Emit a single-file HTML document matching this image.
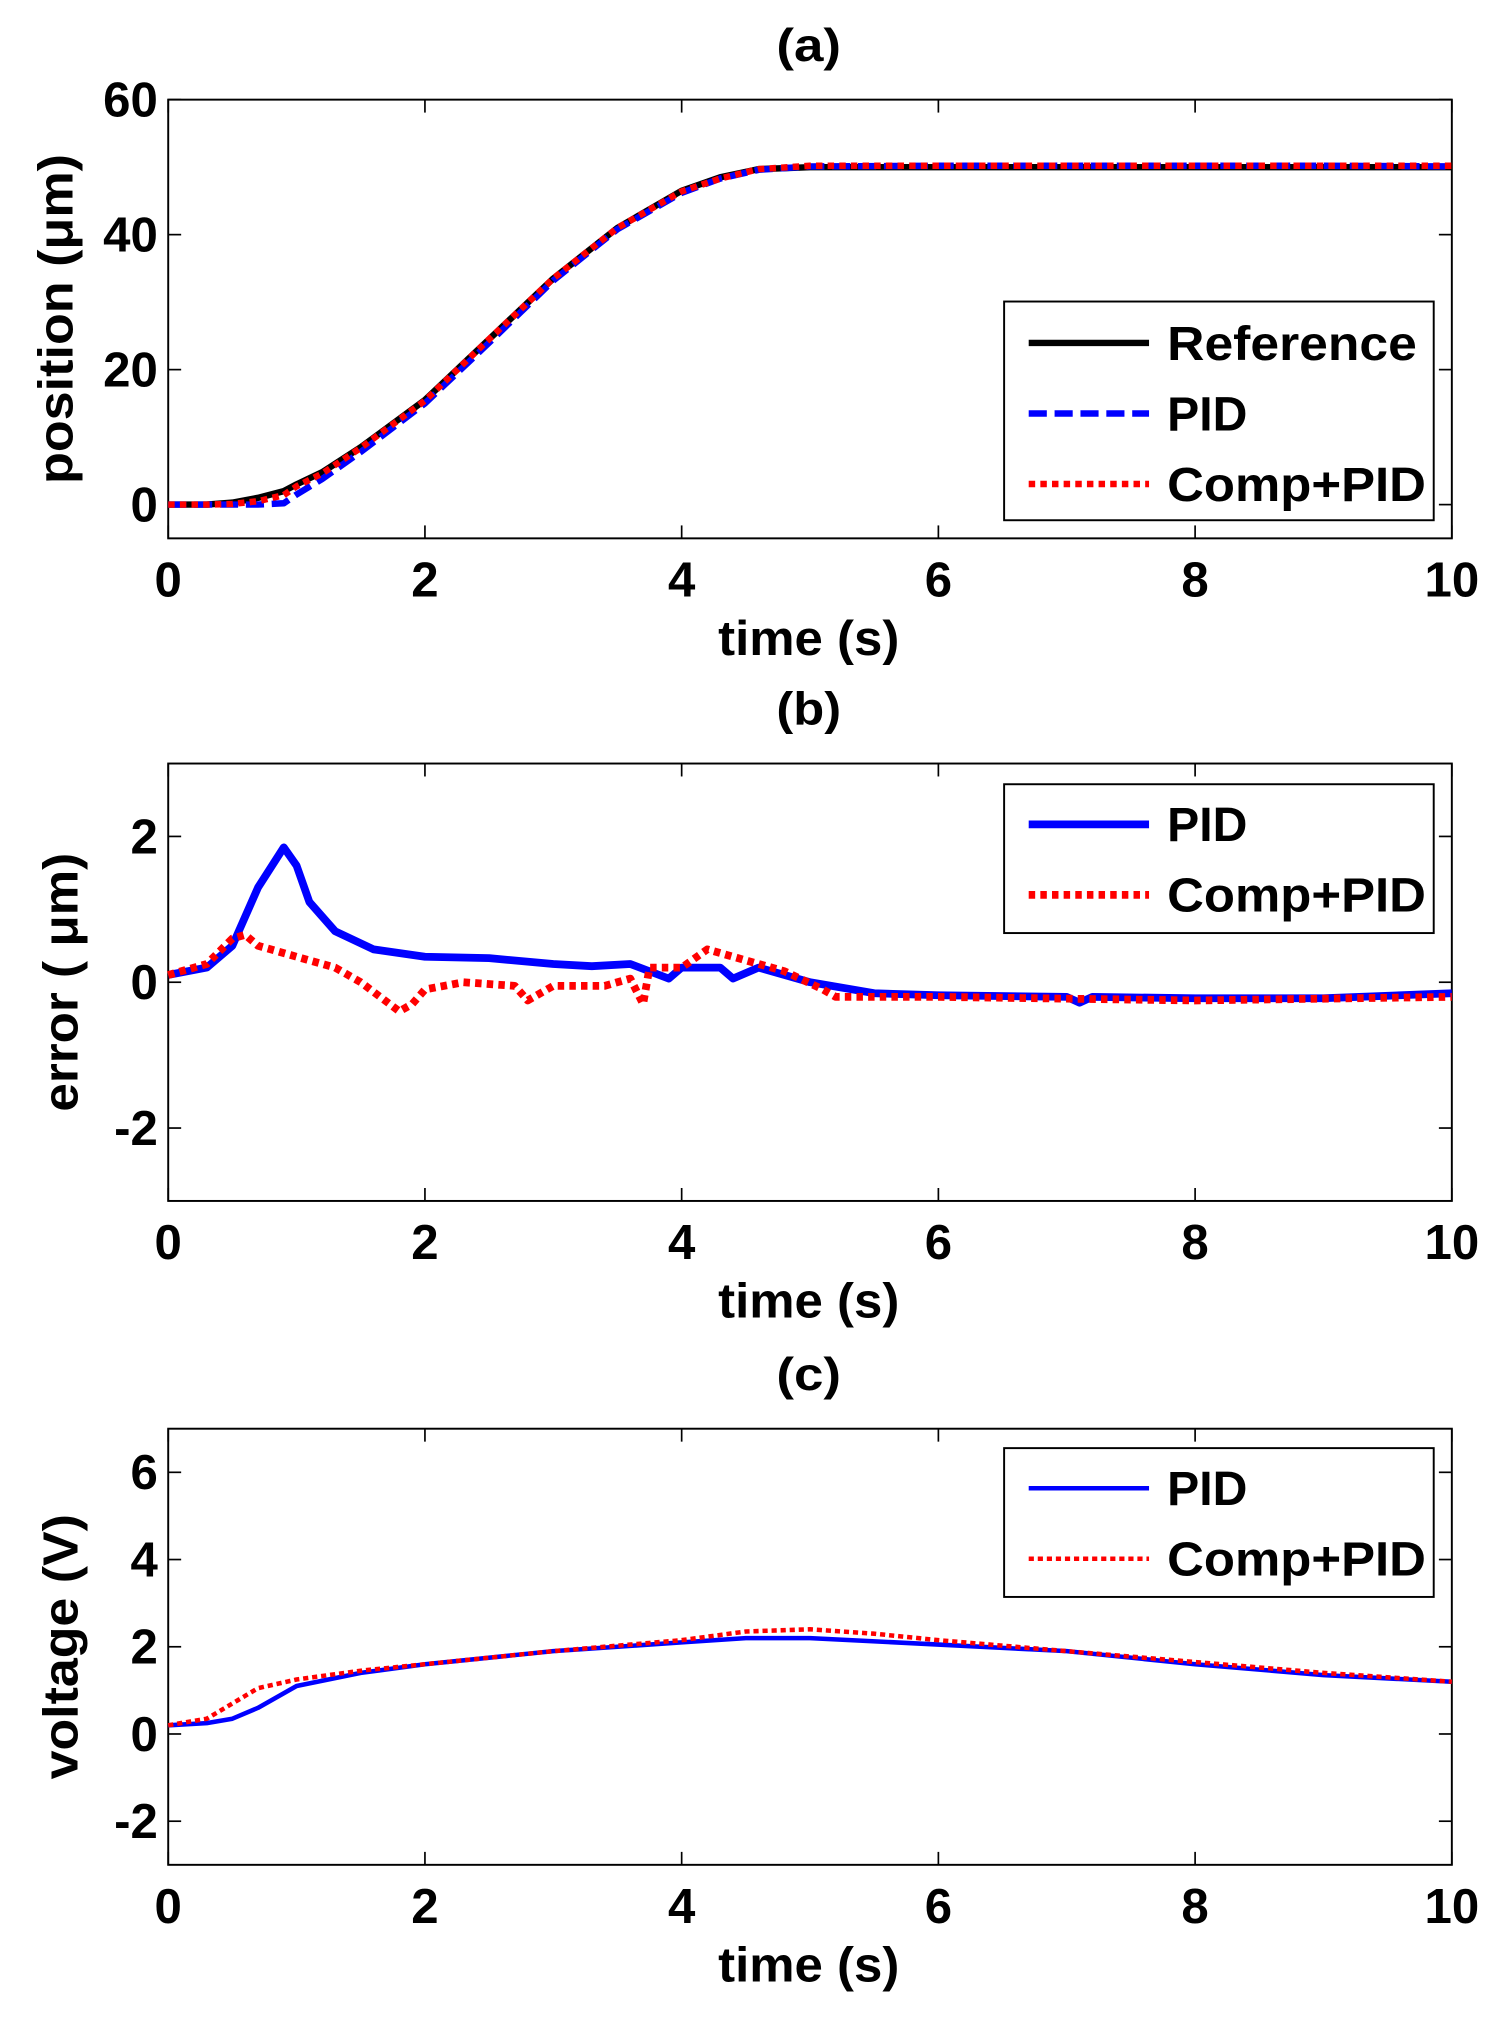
<!DOCTYPE html>
<html><head><meta charset="utf-8"><style>
html,body{margin:0;padding:0;background:#fff}
svg{display:block}
text{font-family:"Liberation Sans",sans-serif;font-weight:bold;fill:#000}
</style></head><body>
<svg id="fig" width="1501" height="2024" viewBox="0 0 1160 1564" preserveAspectRatio="none" xmlns="http://www.w3.org/2000/svg"></svg>
<script>
// ---- data ----
const xTicks = [0,2,4,6,8,10];
const aTicks = [0,20,40,60];
const bTicks = [-2,0,2];
const cTicks = [-2,0,2,4,6];

const tA = [0,0.3,0.5,0.7,0.9,1.0,1.2,1.5,2,2.5,3,3.5,4,4.3,4.6,5,6,7,8,9,10];
const refA = [0,0,0.3,1,2,3,4.8,8.5,15.5,24.5,33.5,41,46.5,48.5,49.7,50,50,50,50,50,50];
const pidA = [0,0,0,0,0.2,1.5,3.8,7.8,15.0,24.0,33.2,40.8,46.2,48.3,49.6,50.1,50.2,50.2,50.2,50.2,50.1];
const compA = [0,0,0.1,0.5,1.4,2.7,4.6,8.4,15.4,24.5,33.5,41,46.4,48.3,49.7,50.2,50.2,50.2,50.2,50.2,50.2];

const tBpid = [0,0.3,0.5,0.7,0.9,1.0,1.1,1.3,1.6,2.0,2.5,3.0,3.3,3.6,3.9,4.0,4.3,4.4,4.6,5.0,5.5,6,7,7.1,7.2,8,9,10];
const errPid = [0.1,0.2,0.5,1.3,1.85,1.6,1.1,0.7,0.45,0.35,0.33,0.25,0.22,0.25,0.05,0.2,0.2,0.05,0.2,0,-0.15,-0.18,-0.2,-0.28,-0.2,-0.22,-0.22,-0.15];
const tBcomp = [0,0.3,0.5,0.6,0.7,1.0,1.3,1.5,1.8,1.9,2.0,2.3,2.7,2.8,3.0,3.4,3.6,3.7,3.75,4.0,4.2,4.5,4.8,5.1,5.2,6,8,10];
const errComp = [0.1,0.25,0.6,0.65,0.5,0.35,0.2,0,-0.4,-0.3,-0.1,0,-0.05,-0.25,-0.05,-0.05,0.05,-0.3,0.2,0.2,0.45,0.3,0.15,-0.1,-0.2,-0.2,-0.25,-0.2];

const tCpid = [0,0.3,0.5,0.7,1.0,1.5,2,3,4,4.5,5,6,7,8,9,10];
const voltPid = [0.2,0.25,0.35,0.6,1.1,1.4,1.6,1.9,2.1,2.2,2.2,2.05,1.9,1.6,1.35,1.2];
const tCcomp = [0,0.3,0.5,0.7,1.0,1.5,2,3,4,4.5,5,5.5,6,7,8,9,10];
const voltComp = [0.2,0.35,0.7,1.05,1.25,1.45,1.6,1.9,2.15,2.35,2.4,2.3,2.15,1.9,1.65,1.4,1.2];

// ---- drawing ----
const NS="http://www.w3.org/2000/svg";
const svg=document.getElementById('fig');
function mk(tag,attrs,parent){const e=document.createElementNS(NS,tag);for(const k in attrs)e.setAttribute(k,attrs[k]);(parent||svg).appendChild(e);return e;}
const L=130,R=1122;
function panel(cfg){
  const g=mk('g',{});
  
  
  const sx=v=>L+(v-0)/10*(R-L);
  const sy=v=>cfg.bot-(v-cfg.ymin)/(cfg.ymax-cfg.ymin)*(cfg.bot-cfg.top);
  const t=mk('text',{x:625,y:cfg.top-30,'font-size':36,'text-anchor':'middle',textLength:50,lengthAdjust:'spacingAndGlyphs'},g);t.textContent=cfg.title;
  
  const box=mk('rect',{x:L,y:cfg.top,width:R-L,height:cfg.bot-cfg.top,fill:'none',stroke:'#000','stroke-width':1.5},g);
  
  xTicks.forEach(v=>{
    mk('line',{x1:sx(v),x2:sx(v),y1:cfg.bot,y2:cfg.bot-10,stroke:'#000','stroke-width':1.3},g);
    mk('line',{x1:sx(v),x2:sx(v),y1:cfg.top,y2:cfg.top+10,stroke:'#000','stroke-width':1.3},g);
    const tx=mk('text',{x:sx(v),y:cfg.bot+45,'font-size':38,'text-anchor':'middle'},g);tx.textContent=v;
    
  });
  cfg.ticks.forEach(v=>{
    mk('line',{x1:L,x2:L+10,y1:sy(v),y2:sy(v),stroke:'#000','stroke-width':1.3},g);
    mk('line',{x1:R,x2:R-10,y1:sy(v),y2:sy(v),stroke:'#000','stroke-width':1.3},g);
    const ty=mk('text',{x:L-8,y:sy(v)+13,'font-size':38,'text-anchor':'end'},g);ty.textContent=v;
    
  });
  const xl=mk('text',{x:625,y:cfg.bot+90,'font-size':38,'text-anchor':'middle',textLength:140,lengthAdjust:'spacingAndGlyphs'},g);xl.textContent='time (s)';
  
  const yc=(cfg.top+cfg.bot)/2;
  const yl=mk('text',{x:0,y:0,'font-size':38,'text-anchor':'middle',textLength:cfg.yllen,lengthAdjust:'spacingAndGlyphs',transform:`translate(${cfg.ylx},${yc}) rotate(-90)`},g);yl.textContent=cfg.ylabel;
  
  cfg.series.forEach(s=>{
    const d=s.t.map((tv,i)=>(i?'L':'M')+sx(tv).toFixed(1)+','+sy(s.v[i]).toFixed(1)).join('');
    const p=mk('path',{d:d,fill:'none',stroke:s.color,'stroke-width':s.w,'stroke-dasharray':s.dash||'none','stroke-linejoin':'round'},g);
    
  });
  const lg=mk('g',{},g);
  
  mk('rect',{x:776,y:cfg.leg.top,width:332,height:cfg.leg.h,fill:'#fff',stroke:'#000','stroke-width':1.5},lg);
  cfg.series.forEach((s,i)=>{
    const y=cfg.leg.y0+i*54.5;
    mk('line',{x1:795,x2:888,y1:y,y2:y,stroke:s.color,'stroke-width':s.w,'stroke-dasharray':s.dash||'none'},lg);
    const lt=mk('text',{x:902,y:y+13,'font-size':37,textLength:s.tl,lengthAdjust:'spacingAndGlyphs'},lg);lt.textContent=s.label;
    
  });
}
panel({name:'panel-a-position',title:'(a)',top:77,bot:416,ymin:-5,ymax:60,ticks:aTicks,ylabel:'position (\u03bcm)',ylx:56,yllen:255,
  leg:{top:233,h:169,y0:265},
  series:[{id:'reference-line',label:'Reference',tl:193,t:tA,v:refA,color:'#000',w:5},
          {id:'pid-line',label:'PID',tl:62,t:tA,v:pidA,color:'#0000ff',w:5,dash:'14,6'},
          {id:'comp-pid-line',label:'Comp+PID',tl:200,t:tA,v:compA,color:'#ff0000',w:5,dash:'5,4'}]});
panel({name:'panel-b-error',title:'(b)',top:590,bot:928,ymin:-3,ymax:3,ticks:bTicks,ylabel:'error ( \u03bcm)',ylx:60,yllen:200,
  leg:{top:606,h:115,y0:637},
  series:[{id:'pid-error-line',label:'PID',tl:62,t:tBpid,v:errPid,color:'#0000ff',w:6},
          {id:'comp-pid-error-line',label:'Comp+PID',tl:200,t:tBcomp,v:errComp,color:'#ff0000',w:6,dash:'5,4'}]});
panel({name:'panel-c-voltage',title:'(c)',top:1104,bot:1441,ymin:-3,ymax:7,ticks:cTicks,ylabel:'voltage (V)',ylx:60,yllen:205,
  leg:{top:1119,h:115,y0:1150},
  series:[{id:'pid-voltage-line',label:'PID',tl:62,t:tCpid,v:voltPid,color:'#0000ff',w:3.5},
          {id:'comp-pid-voltage-line',label:'Comp+PID',tl:200,t:tCcomp,v:voltComp,color:'#ff0000',w:3.5,dash:'4,3'}]});
</script>
</body></html>
